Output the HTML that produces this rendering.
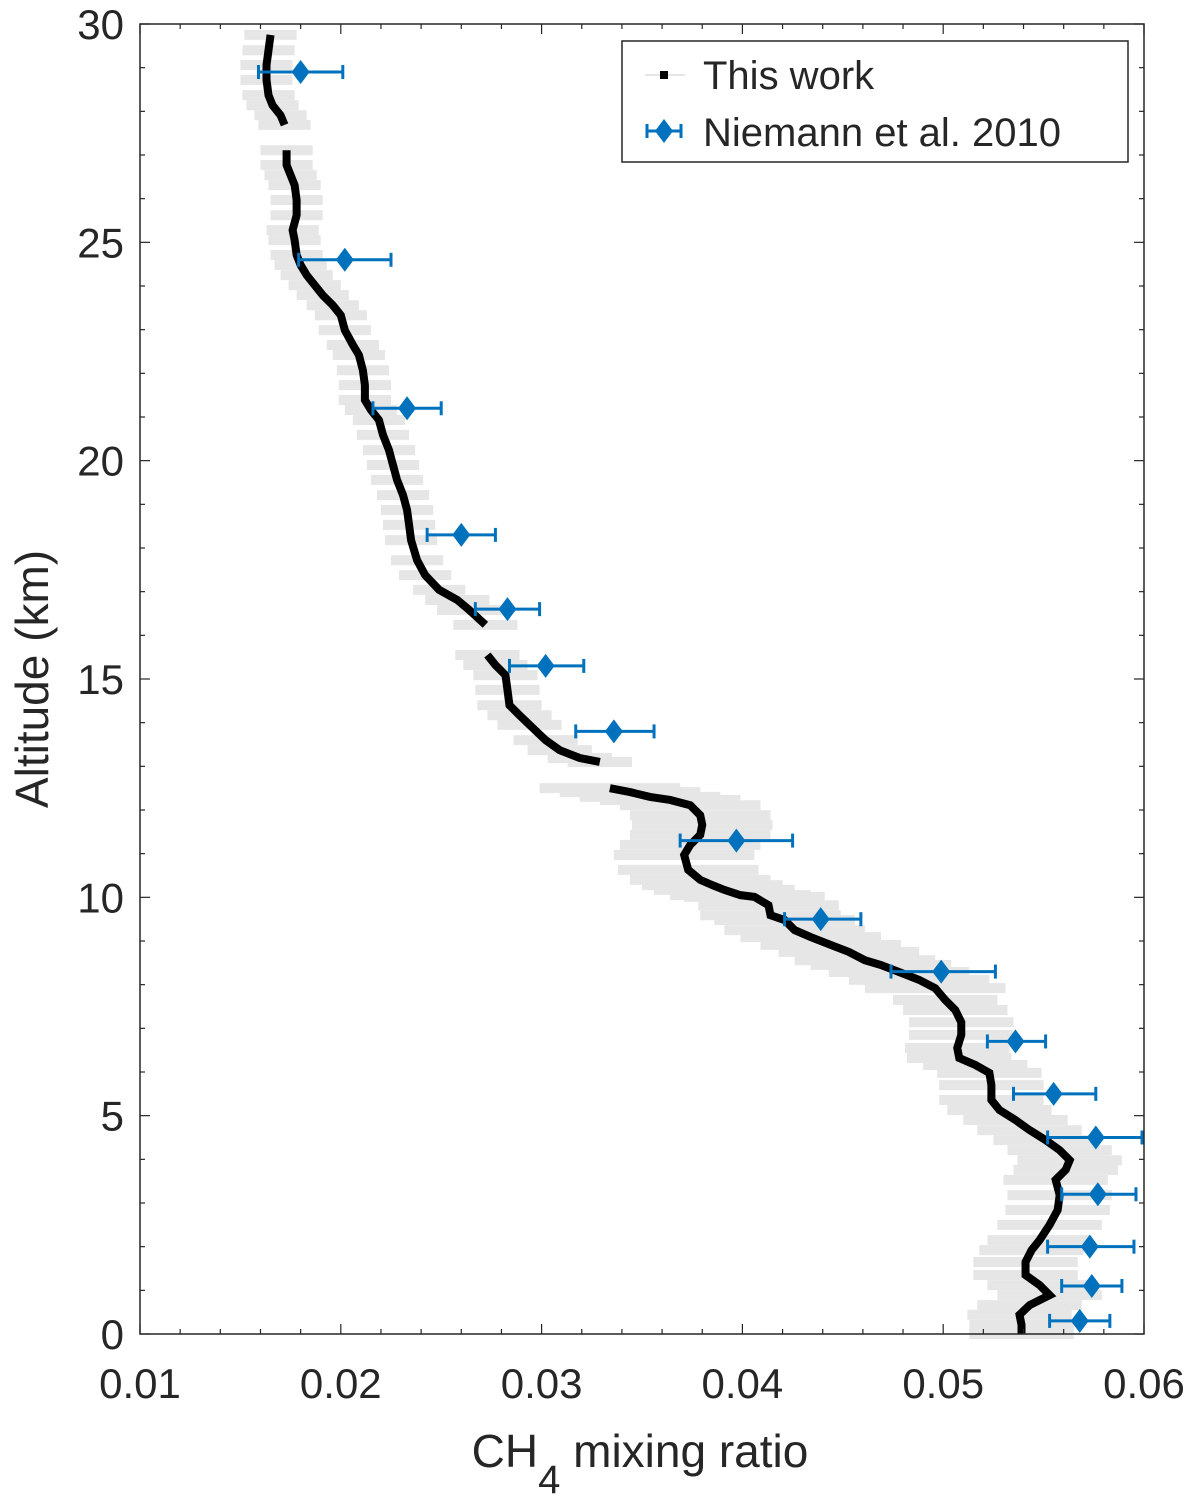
<!DOCTYPE html>
<html><head><meta charset="utf-8"><style>
body{margin:0;background:#fff}
svg{display:block}
text{font-family:"Liberation Sans",Arial,sans-serif;fill:#262626}
</style></head><body>
<svg id="chart" width="1200" height="1503" viewBox="0 0 1200 1503" xmlns="http://www.w3.org/2000/svg">
<g id="bg"></g><g id="grey"></g><g id="prof"></g><g id="nie"></g><g id="axes"></g><g id="legend"></g>
</svg>
<script>
const xTicks=[0.01,0.02,0.03,0.04,0.05,0.06];
const xTickLabels=["0.01","0.02","0.03","0.04","0.05","0.06"];
const yTicks=[0,5,10,15,20,25,30];
const yTickLabels=["0","5","10","15","20","25","30"];
const profX=[0.0165,0.0164,0.0163,0.0163,0.0164,0.0166,0.0170,0.0172,null,0.0173,0.0173,0.0175,0.0177,0.0178,0.0178,0.0176,0.0177,0.0178,0.0180,0.0183,0.0187,0.0191,0.0196,0.0200,0.0202,0.0206,0.0209,0.0211,0.0212,0.0212,0.0215,0.0219,0.0221,0.0224,0.0226,0.0228,0.0231,0.0233,0.0234,0.0235,0.0238,0.0242,0.0249,0.0258,0.0264,0.0272,null,0.0273,0.0277,0.0282,0.0283,0.0284,0.0289,0.0294,0.0302,0.0309,0.0319,0.0329,null,0.0334,0.0344,0.0354,0.0364,0.0374,0.0379,0.0380,0.0379,0.0374,0.0371,0.0373,0.0379,0.0385,0.0391,0.0399,0.0406,0.0413,0.0414,0.0421,0.0426,0.0434,0.0444,0.0453,0.0461,0.0469,0.0478,0.0488,0.0496,0.0501,0.0506,0.0509,0.0509,0.0507,0.0508,0.0516,0.0523,0.0524,0.0524,0.0528,0.0536,0.0543,0.0551,0.0558,0.0563,0.0561,0.0556,0.0558,0.0557,0.0553,0.0548,0.0544,0.0541,0.0541,0.0548,0.0553,0.0543,0.0538,0.0539,0.0539];
const profAlt=[29.75,29.40,29.06,28.72,28.37,28.14,27.91,27.69,null,27.11,26.77,26.54,26.31,25.97,25.62,25.28,25.05,24.71,24.48,24.25,24.02,23.79,23.56,23.33,22.99,22.65,22.42,22.07,21.73,21.39,21.16,20.93,20.59,20.24,19.90,19.56,19.21,18.87,18.53,18.18,17.72,17.38,17.04,16.81,16.58,16.24,null,15.55,15.32,15.09,14.75,14.40,14.17,13.95,13.60,13.37,13.19,13.10,null,12.50,12.41,12.30,12.23,12.11,11.88,11.66,11.43,11.20,10.97,10.63,10.40,10.28,10.17,10.05,10.01,9.82,9.59,9.48,9.25,9.09,8.91,8.75,8.56,8.45,8.29,8.11,7.92,7.65,7.42,7.14,6.85,6.55,6.32,6.16,5.98,5.70,5.36,5.13,4.90,4.67,4.44,4.21,3.98,3.76,3.53,3.18,2.84,2.50,2.15,1.92,1.65,1.35,1.12,0.89,0.66,0.44,0.21,0.0];
const nieX=[0.0180,0.0202,0.0233,0.0260,0.0283,0.0302,0.0336,0.0397,0.0439,0.0499,0.0536,0.0555,0.0576,0.0577,0.0573,0.0574,0.0568];
const nieAlt=[28.9,24.6,21.2,18.3,16.6,15.3,13.8,11.3,9.5,8.3,6.7,5.5,4.5,3.2,2.0,1.1,0.3];
const nieLo=[0.0159,0.0179,0.0216,0.0243,0.0267,0.0284,0.0317,0.0369,0.0421,0.0474,0.0522,0.0535,0.0552,0.0559,0.0552,0.0559,0.0553];
const nieHi=[0.0201,0.0225,0.0250,0.0277,0.0299,0.0321,0.0356,0.0425,0.0459,0.0526,0.0551,0.0576,0.0599,0.0596,0.0595,0.0589,0.0583];

const L=140,R=1144,T=24,B=1334;
const sx=v=>L+(v-0.01)/(0.05)*(R-L);
const sy=v=>B-v/30*(B-T);
const NS="http://www.w3.org/2000/svg";
function mk(tag,attrs,parent){const e=document.createElementNS(NS,tag);for(const k in attrs)e.setAttribute(k,attrs[k]);parent.appendChild(e);return e;}
const g=id=>document.getElementById(id);

// background
const bgr=mk('rect',{x:L,y:T,width:R-L,height:B-T,fill:'#fff'},g('bg'));



// grey uncertainty per point
function errOf(a){return a>17?0.0013:a>12.8?0.0016:a>7.8?0.0035:0.0026;}
for(let i=0;i<profX.length;i++){
  if(profX[i]===null)continue;
  const e=errOf(profAlt[i]);
  const ln=mk('line',{x1:sx(profX[i]-e),x2:sx(profX[i]+e),y1:sy(profAlt[i]),y2:sy(profAlt[i]),stroke:'#e6e6e6','stroke-width':10},g('grey'));
  
  
}
// profile segments
let seg=[];
function flush(){if(seg.length>1){const p=mk('polyline',{points:seg.join(' '),fill:'none',stroke:'#000','stroke-width':8},g('prof'));}seg=[];}
for(let i=0;i<profX.length;i++){
  if(profX[i]===null){flush();continue;}
  seg.push(sx(profX[i])+','+sy(profAlt[i]));
}
flush();
// Niemann
for(let i=0;i<nieX.length;i++){
  const y=sy(nieAlt[i]),x=sx(nieX[i]);
  const gg=mk('g',{},g('nie'));
  
  
  mk('line',{x1:sx(nieLo[i]),x2:sx(nieHi[i]),y1:y,y2:y,stroke:'#0072bd','stroke-width':3},gg);
  mk('line',{x1:sx(nieLo[i]),x2:sx(nieLo[i]),y1:y-7,y2:y+7,stroke:'#0072bd','stroke-width':3},gg);
  mk('line',{x1:sx(nieHi[i]),x2:sx(nieHi[i]),y1:y-7,y2:y+7,stroke:'#0072bd','stroke-width':3},gg);
  mk('polygon',{points:`${x},${y-12} ${x+9},${y} ${x},${y+12} ${x-9},${y}`,fill:'#0072bd'},gg);
}
// axes
const ax=g('axes');
const fr=mk('rect',{x:L,y:T,width:R-L,height:B-T,fill:'none',stroke:'#262626','stroke-width':1.5},ax);


for(let v=0.01;v<=0.0601;v+=0.002){
  const x=sx(v);const major=Math.abs((v*100)-Math.round(v*100))<1e-6;const len=major?10:5;
  mk('line',{x1:x,x2:x,y1:B,y2:B-len,stroke:'#262626','stroke-width':1.2},ax);
  mk('line',{x1:x,x2:x,y1:T,y2:T+len,stroke:'#262626','stroke-width':1.2},ax);
}
for(let v=0;v<=30;v++){
  const y=sy(v);const len=v%5===0?10:5;
  mk('line',{x1:L,x2:L+len,y1:y,y2:y,stroke:'#262626','stroke-width':1.2},ax);
  mk('line',{x1:R,x2:R-len,y1:y,y2:y,stroke:'#262626','stroke-width':1.2},ax);
}
xTicks.forEach((v,i)=>{const t=mk('text',{x:sx(v),y:1398,'text-anchor':'middle','font-size':42},ax);t.textContent=xTickLabels[i];
  });
yTicks.forEach((v,i)=>{const t=mk('text',{x:124,y:sy(v)+15,'text-anchor':'end','font-size':42},ax);t.textContent=yTickLabels[i];
  });
const xt=mk('text',{x:640,y:1467,'text-anchor':'middle','font-size':46},ax);

xt.innerHTML='CH<tspan dy="26" font-size="40">4</tspan><tspan dy="-26"> mixing ratio</tspan>';
const yt=mk('text',{x:0,y:0,'text-anchor':'middle','font-size':46,transform:'translate(48,679) rotate(-90)'},ax);

yt.textContent='Altitude (km)';
// legend
const lg=g('legend');
const lb=mk('rect',{x:622,y:41,width:506,height:121,fill:'#fff',stroke:'#262626','stroke-width':1.5},lg);

mk('line',{x1:645,x2:685,y1:75,y2:75,stroke:'#e6e6e6','stroke-width':2},lg);
mk('rect',{x:660,y:71,width:8,height:8,fill:'#000'},lg);
const l1=mk('text',{x:703,y:89,'font-size':40},lg);l1.textContent='This work';

mk('line',{x1:647,x2:681,y1:131,y2:131,stroke:'#0072bd','stroke-width':3},lg);
mk('line',{x1:647,x2:647,y1:124,y2:138,stroke:'#0072bd','stroke-width':3},lg);
mk('line',{x1:681,x2:681,y1:124,y2:138,stroke:'#0072bd','stroke-width':3},lg);
mk('polygon',{points:'664,119 673,131 664,143 655,131',fill:'#0072bd'},lg);
const l2=mk('text',{x:703,y:146,'font-size':40},lg);l2.textContent='Niemann et al. 2010';

</script>
</body></html>
